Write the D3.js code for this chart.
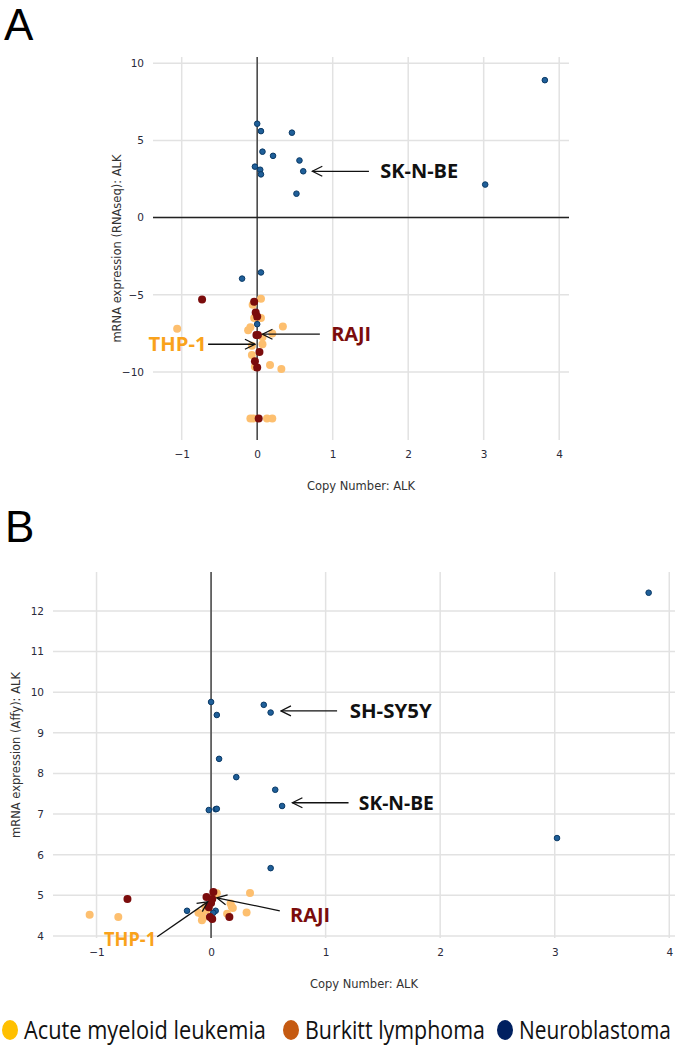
<!DOCTYPE html>
<html>
<head>
<meta charset="utf-8">
<script src="https://cdn.jsdelivr.net/npm/d3@7"></script>
<style>
  body { margin: 0; background: #fff; }
  .tick text { font-family: "DejaVu Sans", Verdana, sans-serif; font-size: 10.5px; fill: #2a2a3a; }
  .axis-title { font-family: "DejaVu Sans", Verdana, sans-serif; font-size: 11.5px; fill: #333; }
  .note { font-family: "Open Sans", "Liberation Sans", sans-serif; font-weight: bold; font-size: 20px; }
  .legend text { font-family: "Open Sans", "Liberation Sans", sans-serif; font-size: 25px; fill: #111; }
</style>
</head>
<body>
<div id="chart"></div>
<script>
// ---------------- data: [copy number, mRNA expression] ----------------
const aNeuro = [[0.0, 6.08], [0.05, 5.6], [0.46, 5.5], [0.07, 4.27], [0.21, 4.0], [0.56, 3.7],
  [-0.03, 3.3], [0.04, 3.1], [0.61, 3.0], [0.05, 2.8], [0.52, 1.55], [3.02, 2.14], [3.81, 8.9],
  [-0.2, -3.95], [0.05, -3.55], [0.0, -6.9]];
const aBurkitt = [[-0.73, -5.3], [-0.04, -5.45], [-0.02, -6.15], [0.0, -6.4], [-0.01, -7.6],
  [0.01, -7.6], [0.03, -8.7], [-0.03, -9.3], [0.0, -9.7], [0.02, -13.0]];
const aAml = [[-1.06, -7.2], [0.05, -5.25], [-0.06, -5.65], [-0.04, -6.5], [0.05, -6.5],
  [-0.12, -7.3], [-0.09, -7.1], [0.34, -7.05], [0.2, -7.5], [0.07, -7.75], [-0.07, -8.3],
  [0.07, -8.2], [-0.07, -8.9], [0.17, -9.55], [0.32, -9.8], [-0.03, -9.65], [-0.09, -13.0],
  [-0.05, -13.0], [0.13, -13.0], [0.2, -13.0]];

const bNeuro = [[3.82, 12.45], [3.02, 6.41], [0.0, 9.76], [0.05, 9.44], [0.46, 9.69], [0.52, 9.5],
  [0.07, 8.36], [0.22, 7.91], [0.56, 7.6], [0.62, 7.2], [-0.02, 7.1], [0.04, 7.12], [0.05, 7.13],
  [0.52, 5.67], [-0.21, 4.62], [0.04, 4.62], [0.02, 4.57]];
const bAml = [[-1.06, 4.52], [-0.81, 4.47], [0.34, 5.06], [-0.08, 4.52], [-0.11, 4.57],
  [-0.08, 4.39], [-0.04, 4.64], [0.03, 5.0], [0.05, 5.05], [0.17, 4.8], [0.19, 4.69],
  [0.18, 4.72], [0.31, 4.58], [0.14, 4.55], [-0.05, 4.71], [-0.07, 4.44]];
const bBurkitt = [[-0.73, 4.91], [-0.04, 4.96], [0.02, 5.08], [0.01, 4.91], [0.0, 4.81],
  [-0.02, 4.71], [-0.01, 4.47], [0.01, 4.42], [0.16, 4.47]];

const xTicks = [-1, 0, 1, 2, 3, 4];
const aYTicks = [-10, -5, 0, 5, 10];
const bYTicks = [4, 5, 6, 7, 8, 9, 10, 11, 12];

// annotations: label, tail [x,y], tip [x,y], text position [x,y], anchor, text width
const aNotes = [
  { label: "SK-N-BE", tail: [1.48, 3.0], tip: [0.73, 3.0], at: [1.63, 3.0], anchor: "start", color: "#111", w: 78 },
  { label: "RAJI", tail: [0.83, -7.55], tip: [0.07, -7.55], at: [0.98, -7.5], anchor: "start", color: "#7b0c0c", w: 40 },
  { label: "THP-1", tail: [-0.65, -8.2], tip: [-0.03, -8.2], at: [-0.67, -8.2], anchor: "end", color: "#f9a21b", w: 58 }
];
const bNotes = [
  { label: "SH-SY5Y", tail: [1.10, 9.54], tip: [0.61, 9.54], at: [1.21, 9.54], anchor: "start", color: "#111", w: 82 },
  { label: "SK-N-BE", tail: [1.20, 7.28], tip: [0.71, 7.28], at: [1.29, 7.28], anchor: "start", color: "#111", w: 75 },
  { label: "RAJI", tail: [0.60, 4.62], tip: [0.05, 4.94], at: [0.69, 4.52], anchor: "start", color: "#7b0c0c", w: 40 },
  { label: "THP-1", tail: [-0.47, 3.98], tip: [-0.03, 4.84], at: [-0.48, 3.93], anchor: "end", color: "#f9a21b", w: 52 }
];

const legendLabels = ["Acute myeloid leukemia", "Burkitt lymphoma", "Neuroblastoma"];
const legendColors = ["#ffc000", "#c55a11", "#002060"];

// ---------------- drawing ----------------
const svg = d3.select("#chart").append("svg")
    .attr("width", 677).attr("height", 1050);

svg.append("defs").append("marker")
    .attr("id", "arrow")
    .attr("viewBox", "0 0 12 12")
    .attr("refX", 11).attr("refY", 6)
    .attr("markerWidth", 12).attr("markerHeight", 12)
    .attr("markerUnits", "userSpaceOnUse")
    .attr("orient", "auto")
    .append("path")
    .attr("d", "M1,1 L11,6 L1,11")
    .attr("fill", "none").attr("stroke", "#111").attr("stroke-width", 1.3);

function drawPanel(opt) {
    const x = d3.scaleLinear().domain(opt.xDomain).range([opt.left, opt.right]);
    const y = d3.scaleLinear().domain(opt.yDomain).range([opt.bottom, opt.top]);
    const g = svg.append("g");

    // grid
    g.selectAll(".vgrid").data(xTicks).enter().append("line")
        .attr("x1", d => x(d)).attr("x2", d => x(d))
        .attr("y1", opt.top).attr("y2", opt.bottom)
        .attr("stroke", "#e2e2e2").attr("stroke-width", 1.5);
    g.selectAll(".hgrid").data(opt.yTicks).enter().append("line")
        .attr("x1", opt.left).attr("x2", opt.right)
        .attr("y1", d => y(d)).attr("y2", d => y(d))
        .attr("stroke", "#e2e2e2").attr("stroke-width", 1.5);

    // zero lines
    g.append("line")
        .attr("x1", x(0)).attr("x2", x(0)).attr("y1", opt.top).attr("y2", opt.bottom)
        .attr("stroke", "#444").attr("stroke-width", 1.5);
    if (opt.yDomain[0] < 0) {
        g.append("line")
            .attr("x1", opt.left).attr("x2", opt.right).attr("y1", y(0)).attr("y2", y(0))
            .attr("stroke", "#222").attr("stroke-width", 1.5);
    }

    // axes (labels only)
    g.append("g")
        .attr("transform", `translate(0,${opt.bottom + 8})`)
        .call(d3.axisBottom(x).tickValues(xTicks).tickSize(0).tickFormat(d3.format("")))
        .call(a => a.select(".domain").remove());
    g.append("g")
        .attr("transform", `translate(${opt.left - 6},0)`)
        .call(d3.axisLeft(y).tickValues(opt.yTicks).tickSize(0).tickFormat(d3.format("")))
        .call(a => a.select(".domain").remove());

    g.append("text").attr("class", "axis-title")
        .attr("x", (opt.left + opt.right) / 2).attr("y", opt.bottom + 50)
        .attr("text-anchor", "middle").text("Copy Number: ALK");
    g.append("text").attr("class", "axis-title")
        .attr("transform", `translate(${opt.yTitleX},${(opt.top + opt.bottom) / 2}) rotate(-90)`)
        .attr("text-anchor", "middle").text(opt.yTitle);

    // points
    function dots(data, fill, stroke, r) {
        g.append("g").selectAll("circle").data(data).enter().append("circle")
            .attr("cx", d => x(d[0])).attr("cy", d => y(d[1]))
            .attr("r", r).attr("fill", fill)
            .attr("stroke", stroke).attr("stroke-width", stroke === "none" ? 0 : 1);
    }
    dots(opt.aml, "#fdbf6f", "none", 4);
    dots(opt.neuro, "#1f5f99", "#0b3a66", 2.8);
    dots(opt.burkitt, "#7b0c0c", "none", 4);

    // annotations
    opt.notes.forEach(n => {
        g.append("line")
            .attr("x1", x(n.tail[0])).attr("y1", y(n.tail[1]))
            .attr("x2", x(n.tip[0])).attr("y2", y(n.tip[1]))
            .attr("stroke", "#111").attr("stroke-width", 1.3)
            .attr("marker-end", "url(#arrow)");
        g.append("text").attr("class", "note")
            .attr("x", x(n.at[0])).attr("y", y(n.at[1]))
            .attr("dy", "0.36em").attr("text-anchor", n.anchor)
            .attr("textLength", n.w).attr("lengthAdjust", "spacingAndGlyphs")
            .attr("fill", n.color).text(n.label);
    });

    svg.append("text")
        .attr("x", opt.letterX).attr("y", opt.letterY)
        .style("font-family", "Liberation Sans, Arial, sans-serif")
        .style("font-size", "44px").text(opt.letter);
}

drawPanel({
    letter: "A", letterX: 4, letterY: 40,
    xDomain: [-1.38, 4.13], yDomain: [-14.4, 10.4],
    left: 153, right: 569, top: 57, bottom: 440,
    yTicks: aYTicks, yTitle: "mRNA expression (RNAseq): ALK", yTitleX: 121,
    neuro: aNeuro, burkitt: aBurkitt, aml: aAml, notes: aNotes
});

drawPanel({
    letter: "B", letterX: 5, letterY: 542,
    xDomain: [-1.38, 4.05], yDomain: [3.95, 12.96],
    left: 53, right: 675, top: 572, bottom: 938,
    yTicks: bYTicks, yTitle: "mRNA expression (Affy): ALK", yTitleX: 20,
    neuro: bNeuro, burkitt: bBurkitt, aml: bAml, notes: bNotes
});

// legend (text squeezed horizontally to the narrow look of the original)
const legendX = [10, 291, 505];
const legendW = [242, 180, 152];
const legend = svg.append("g").attr("class", "legend");
legendLabels.forEach((label, i) => {
    legend.append("ellipse")
        .attr("cx", legendX[i]).attr("cy", 1030).attr("rx", 8).attr("ry", 10)
        .attr("fill", legendColors[i]);
    const t = legend.append("text").text(label);
    const natural = t.node().getComputedTextLength();
    t.attr("transform", `translate(${legendX[i] + 14},1039) scale(${legendW[i] / natural},1)`);
});
</script>
</body>
</html>
